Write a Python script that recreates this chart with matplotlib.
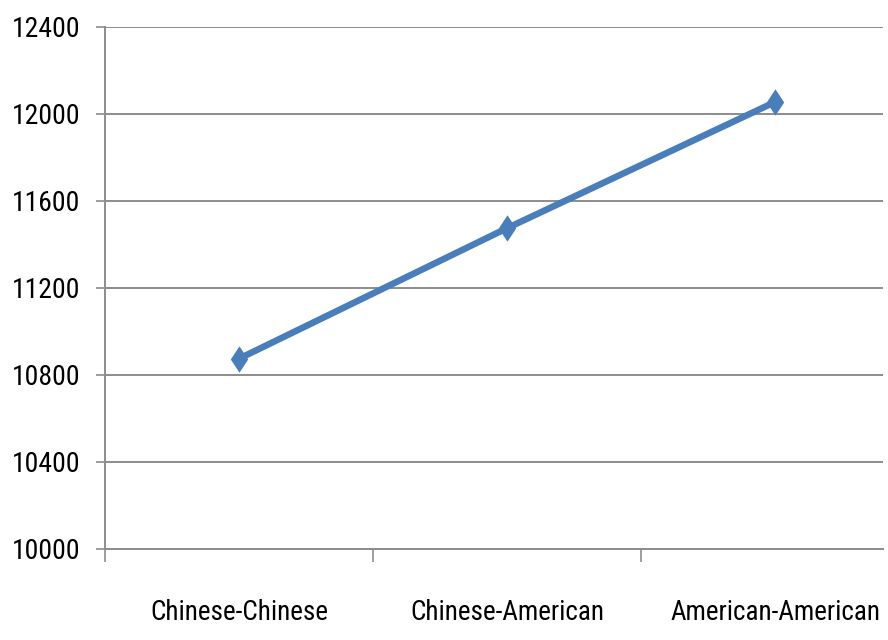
import matplotlib
matplotlib.use("Agg")
import matplotlib.pyplot as plt
from matplotlib import font_manager
from matplotlib.markers import MarkerStyle

categories = ["Chinese-Chinese", "Chinese-American", "American-American"]
values = [10875, 11475, 12055]
y_ticks = [10000, 10400, 10800, 11200, 11600, 12000, 12400]

names = {f.name for f in font_manager.fontManager.ttflist}
family = "Liberation Sans"
for cand in ["Liberation Sans Narrow", "Roboto Condensed", "Open Sans Condensed",
             "DejaVu Sans Condensed", "Liberation Sans"]:
    if cand in names:
        family = cand
        break
plt.rcParams["font.family"] = [family, "DejaVu Sans"]

grid_color = "#8c8c8c"
line_color = "#4a7ebb"

# plot area: left edge at 105 px, category pitch 268 px, grid ends at 883 px
left_px, right_px, pitch = 105, 883, 268
fig = plt.figure(figsize=(8.88, 6.40), dpi=100)
ax = fig.add_axes([left_px / 888, 1 - 549 / 640,
                   (right_px - left_px) / 888, (549 - 27) / 640])

x = list(range(len(categories)))
diamond = MarkerStyle([(0, 1), (0.66, 0), (0, -1), (-0.66, 0), (0, 1)])
ax.plot(x, values, color=line_color, linewidth=4.7, marker=diamond,
        markersize=19, markeredgewidth=0, solid_capstyle="round", zorder=3)

ax.set_xlim(-0.5, -0.5 + (right_px - left_px) / pitch)
ax.set_ylim(y_ticks[0], y_ticks[-1])
ax.set_yticks(y_ticks)
ax.set_yticklabels([str(v) for v in y_ticks])
ax.yaxis.grid(True, color=grid_color, linewidth=1.4)
ax.set_axisbelow(True)

# category boundaries carry the tick marks, labels sit at the centres
ax.set_xticks([i - 0.5 for i in range(len(categories))])
ax.set_xticklabels([])
ax.set_xticks(x, minor=True)
ax.set_xticklabels(categories, minor=True)
ax.tick_params(axis="x", which="major", length=9.4, width=1.2, color=grid_color,
               direction="out")
ax.tick_params(axis="x", which="minor", length=0, pad=36, labelsize=19.5)
ax.tick_params(axis="y", length=6.5, width=1.2, color=grid_color, pad=11,
               labelsize=20)

for side in ["top", "right"]:
    ax.spines[side].set_visible(False)
for side in ["left", "bottom"]:
    ax.spines[side].set_color(grid_color)
    ax.spines[side].set_linewidth(1.4)

fig.savefig("out.png", dpi=100)
